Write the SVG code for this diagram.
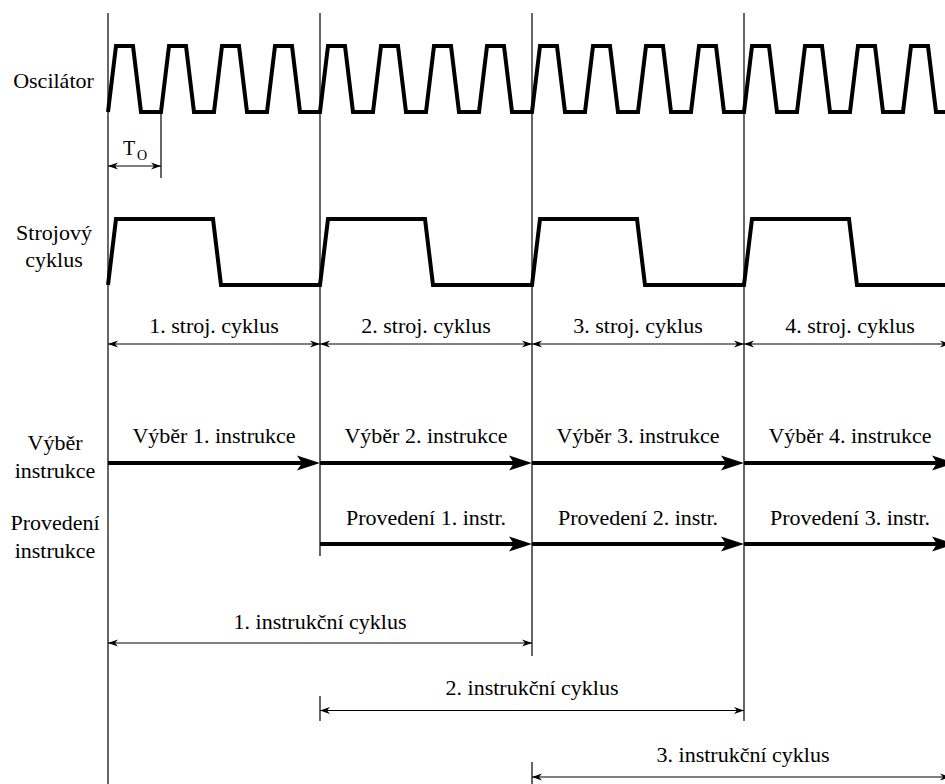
<svg xmlns="http://www.w3.org/2000/svg" xmlns:xlink="http://www.w3.org/1999/xlink" width="945" height="784" viewBox="0 0 945 784">
<style>
text{font-family:"Liberation Serif","Times New Roman",serif;font-size:22px;fill:#000}
.c{text-anchor:middle}
.thin{stroke:#000;stroke-width:1.2;fill:none}
.wave{stroke:#000;stroke-width:4;fill:none;stroke-linejoin:miter;stroke-miterlimit:10}
.shaft{stroke:#000;stroke-width:4;fill:none}
</style>
<defs>
<path id="ah" d="M0,0 L-23,-7.5 L-18,0 L-23,7.5 Z" fill="#000"/>
<path id="tr" d="M0,0 L-10,-3.5 L-7,0 L-10,3.5 Z" fill="#000"/>
<path id="tl" d="M0,0 L10,-3.5 L7,0 L10,3.5 Z" fill="#000"/>
</defs>
<rect width="945" height="784" fill="#fff"/>

<g id="grid">
<line class="thin" x1="108" y1="13" x2="108" y2="784"/>
<line class="thin" x1="320" y1="13" x2="320" y2="556"/>
<line class="thin" x1="532" y1="13" x2="532" y2="656"/>
<line class="thin" x1="744" y1="13" x2="744" y2="721"/>
<line class="thin" x1="161" y1="112" x2="161" y2="178"/>
<line class="thin" x1="320" y1="696" x2="320" y2="721"/>
<line class="thin" x1="532" y1="762" x2="532" y2="784"/>
</g>

<g id="oscilator">
<text class="c" x="53.5" y="88">Oscilátor</text>
<polyline class="wave" points="108,112 116,46 133,46 141,112 161,112 169,46 186,46 194,112 214,112 222,46 239,46 247,112 267,112 275,46 292,46 300,112 320,112 328,46 345,46 353,112 373,112 381,46 398,46 406,112 426,112 434,46 451,46 459,112 479,112 487,46 504,46 512,112 532,112 540,46 557,46 565,112 585,112 593,46 610,46 618,112 638,112 646,46 663,46 671,112 691,112 699,46 716,46 724,112 744,112 752,46 769,46 777,112 797,112 805,46 822,46 830,112 850,112 858,46 875,46 883,112 903,112 911,46 928,46 936,112 950,112"/>
</g>

<g id="to">
<text x="123" y="155" style="font-size:20px">T<tspan x="137" y="160" style="font-size:14px">O</tspan></text>
</g>

<g id="strojovy">
<text class="c" x="54" y="240">Strojový</text>
<text class="c" x="54" y="267">cyklus</text>
<polyline class="wave" points="108,285 116,219 213,219 221,285 320,285 328,219 425,219 433,285 532,285 540,219 637,219 645,285 744,285 752,219 849,219 857,285 950,285"/>
</g>

<g id="stroj-labels">
<text class="c" x="214" y="333">1. stroj. cyklus</text>
<text class="c" x="426" y="333">2. stroj. cyklus</text>
<text class="c" x="638" y="333">3. stroj. cyklus</text>
<text class="c" x="850" y="333">4. stroj. cyklus</text>
</g>

<g id="vyber">
<text class="c" x="55" y="450">Výběr</text>
<text class="c" x="55" y="478">instrukce</text>
<text class="c" x="214" y="443">Výběr 1. instrukce</text>
<text class="c" x="426" y="443">Výběr 2. instrukce</text>
<text class="c" x="638" y="443">Výběr 3. instrukce</text>
<text class="c" x="850" y="443">Výběr 4. instrukce</text>
</g>

<g id="provedeni">
<text class="c" x="55" y="530">Provedení</text>
<text class="c" x="55" y="558">instrukce</text>
<text class="c" x="426" y="525">Provedení 1. instr.</text>
<text class="c" x="638" y="525">Provedení 2. instr.</text>
<text class="c" x="850" y="525">Provedení 3. instr.</text>
</g>

<g id="instr-cycles">
<text class="c" x="320" y="629">1. instrukční cyklus</text>
<text class="c" x="532" y="695">2. instrukční cyklus</text>
<text class="c" x="743" y="762">3. instrukční cyklus</text>
</g>

<g id="connectors">
<!-- T_O -->
<line class="thin" x1="108" y1="166" x2="161" y2="166"/>
<use xlink:href="#tl" x="108" y="166"/>
<use xlink:href="#tr" x="161" y="166"/>
<!-- machine cycles -->
<line class="thin" x1="108" y1="344" x2="950" y2="344"/>
<use xlink:href="#tl" x="108" y="344"/><use xlink:href="#tr" x="320" y="344"/>
<use xlink:href="#tl" x="320" y="344"/><use xlink:href="#tr" x="532" y="344"/>
<use xlink:href="#tl" x="532" y="344"/><use xlink:href="#tr" x="744" y="344"/>
<use xlink:href="#tl" x="744" y="344"/><use xlink:href="#tr" x="950" y="344"/>
<!-- fetch row -->
<line class="shaft" x1="108" y1="463" x2="305" y2="463"/><use xlink:href="#ah" x="320" y="463"/>
<line class="shaft" x1="320" y1="463" x2="517" y2="463"/><use xlink:href="#ah" x="532" y="463"/>
<line class="shaft" x1="532" y1="463" x2="729" y2="463"/><use xlink:href="#ah" x="744" y="463"/>
<line class="shaft" x1="744" y1="463" x2="940" y2="463"/><use xlink:href="#ah" x="955" y="463"/>
<!-- execute row -->
<line class="shaft" x1="320" y1="544" x2="517" y2="544"/><use xlink:href="#ah" x="532" y="544"/>
<line class="shaft" x1="532" y1="544" x2="729" y2="544"/><use xlink:href="#ah" x="744" y="544"/>
<line class="shaft" x1="744" y1="544" x2="940" y2="544"/><use xlink:href="#ah" x="955" y="544"/>
<!-- instruction cycles -->
<line class="thin" x1="108" y1="643" x2="532" y2="643"/>
<use xlink:href="#tl" x="108" y="643"/><use xlink:href="#tr" x="532" y="643"/>
<line class="thin" x1="320" y1="710.5" x2="744" y2="710.5"/>
<use xlink:href="#tl" x="320" y="710.5"/><use xlink:href="#tr" x="744" y="710.5"/>
<line class="thin" x1="532" y1="777" x2="950" y2="777"/>
<use xlink:href="#tl" x="532" y="777"/><use xlink:href="#tr" x="950" y="777"/>
</g>
</svg>
